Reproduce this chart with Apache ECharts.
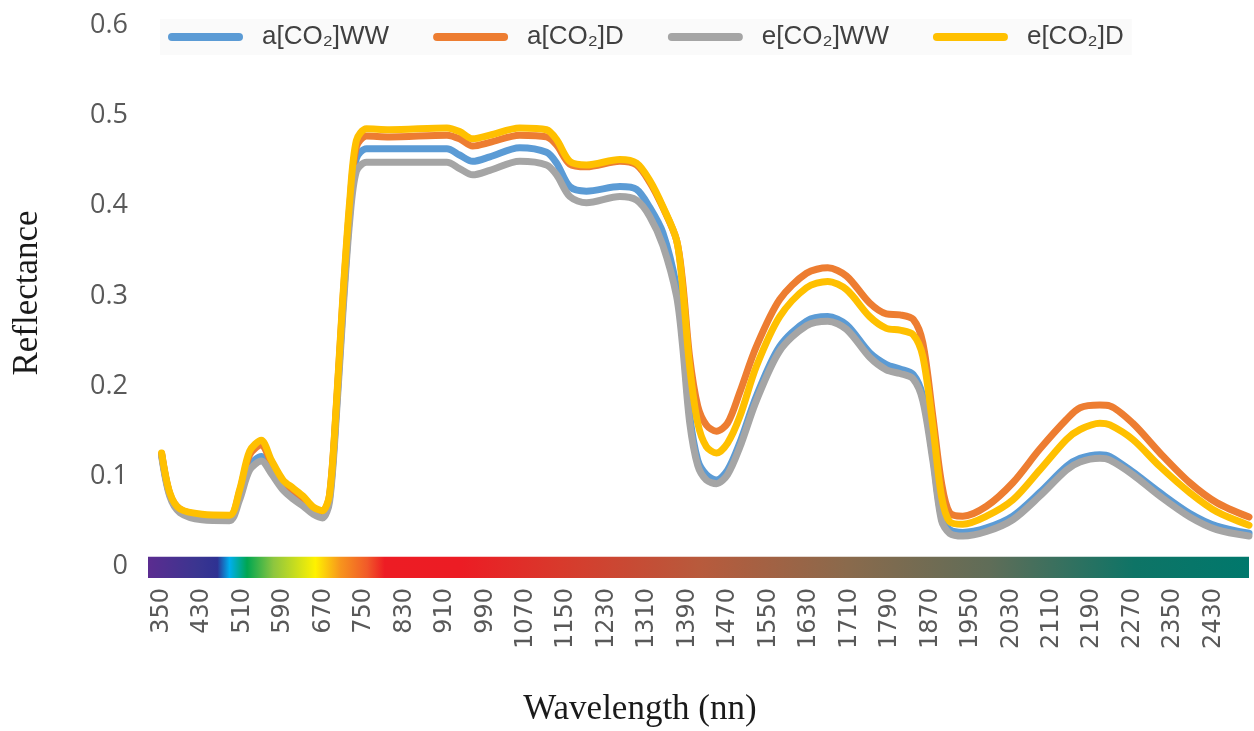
<!DOCTYPE html>
<html>
<head>
<meta charset="utf-8">
<script src="https://cdn.jsdelivr.net/npm/echarts@6/dist/echarts.min.js"></script>
<style>
html,body{margin:0;padding:0;background:#fff;}
#chart{width:1254px;height:731px;}
</style>
</head>
<body>
<div id="chart"></div>
<script>
// ---- data ----
const wavelengths = [350, 366, 386, 430, 484, 504, 524, 547, 567, 590, 610, 630, 650, 668, 682, 696, 708, 722, 735, 755, 800, 914, 939, 965, 999, 1058, 1111, 1131, 1157, 1190, 1256, 1289, 1315, 1341, 1368, 1380, 1394, 1410, 1427, 1447, 1469, 1493, 1526, 1572, 1625, 1667, 1704, 1750, 1783, 1810, 1836, 1855, 1875, 1892, 1908, 1934, 1981, 2033, 2086, 2139, 2166, 2205, 2225, 2270, 2324, 2383, 2436, 2500];

const aCO2WW = [0.124, 0.080, 0.062, 0.055, 0.054, 0.078, 0.112, 0.122, 0.107, 0.089, 0.080, 0.072, 0.062, 0.058, 0.076, 0.178, 0.285, 0.392, 0.452, 0.463, 0.463, 0.463, 0.456, 0.449, 0.454, 0.464, 0.459, 0.447, 0.421, 0.416, 0.421, 0.418, 0.398, 0.370, 0.310, 0.255, 0.168, 0.118, 0.102, 0.096, 0.107, 0.137, 0.189, 0.244, 0.272, 0.277, 0.268, 0.237, 0.224, 0.219, 0.213, 0.189, 0.122, 0.055, 0.041, 0.038, 0.043, 0.056, 0.082, 0.111, 0.120, 0.124, 0.122, 0.105, 0.082, 0.059, 0.045, 0.037];

const aCO2D = [0.125, 0.081, 0.064, 0.057, 0.056, 0.083, 0.124, 0.135, 0.115, 0.094, 0.085, 0.076, 0.065, 0.061, 0.079, 0.182, 0.292, 0.400, 0.465, 0.477, 0.476, 0.478, 0.474, 0.466, 0.470, 0.478, 0.476, 0.467, 0.446, 0.443, 0.449, 0.445, 0.426, 0.398, 0.362, 0.316, 0.232, 0.178, 0.157, 0.150, 0.159, 0.193, 0.244, 0.296, 0.325, 0.331, 0.322, 0.292, 0.280, 0.279, 0.274, 0.248, 0.166, 0.093, 0.060, 0.056, 0.067, 0.093, 0.130, 0.163, 0.176, 0.179, 0.178, 0.159, 0.126, 0.093, 0.071, 0.055];

const eCO2WW = [0.122, 0.078, 0.060, 0.052, 0.051, 0.074, 0.107, 0.117, 0.103, 0.085, 0.075, 0.067, 0.058, 0.054, 0.072, 0.172, 0.278, 0.384, 0.438, 0.448, 0.448, 0.448, 0.441, 0.434, 0.439, 0.449, 0.445, 0.434, 0.410, 0.403, 0.410, 0.406, 0.388, 0.356, 0.300, 0.245, 0.160, 0.112, 0.096, 0.092, 0.102, 0.132, 0.184, 0.239, 0.267, 0.272, 0.263, 0.232, 0.218, 0.214, 0.208, 0.184, 0.117, 0.051, 0.037, 0.034, 0.039, 0.052, 0.078, 0.107, 0.116, 0.120, 0.118, 0.102, 0.078, 0.055, 0.041, 0.034];

const eCO2D = [0.126, 0.082, 0.064, 0.058, 0.057, 0.085, 0.128, 0.140, 0.118, 0.096, 0.087, 0.078, 0.066, 0.062, 0.080, 0.185, 0.296, 0.406, 0.472, 0.485, 0.484, 0.486, 0.482, 0.474, 0.478, 0.486, 0.484, 0.473, 0.449, 0.445, 0.451, 0.447, 0.428, 0.399, 0.362, 0.310, 0.222, 0.159, 0.133, 0.126, 0.137, 0.166, 0.222, 0.277, 0.309, 0.316, 0.307, 0.277, 0.264, 0.262, 0.257, 0.233, 0.155, 0.078, 0.050, 0.047, 0.056, 0.074, 0.107, 0.141, 0.152, 0.159, 0.157, 0.141, 0.111, 0.082, 0.061, 0.046];

const seriesNames = ['a[CO₂]WW', 'a[CO₂]D', 'e[CO₂]WW', 'e[CO₂]D'];
const xTickLabels = [350, 430, 510, 590, 670, 750, 830, 910, 990, 1070, 1150, 1230, 1310, 1390, 1470, 1550, 1630, 1710, 1790, 1870, 1950, 2030, 2110, 2190, 2270, 2350, 2430];
const yTickLabels = [0, 0.1, 0.2, 0.3, 0.4, 0.5, 0.6];
const spectrumRange = [323, 2500];

// ---- chart ----
const allValues = [aCO2WW, aCO2D, eCO2WW, eCO2D];
const colors = ['#5b9bd5', '#ed7d31', '#a5a5a5', '#ffc000'];
const pairs = vals => wavelengths.map((w, i) => [w, vals[i]]);

const spectrum = {
  type: 'linear', x: 0, y: 0, x2: 1, y2: 0,
  colorStops: [
    {offset: 0.00, color: '#5b2c90'},
    {offset: 0.045, color: '#3a3590'},
    {offset: 0.063, color: '#2e3192'},
    {offset: 0.074, color: '#00aeef'},
    {offset: 0.090, color: '#00a651'},
    {offset: 0.114, color: '#8dc63f'},
    {offset: 0.152, color: '#fff200'},
    {offset: 0.175, color: '#f7941d'},
    {offset: 0.199, color: '#f15a29'},
    {offset: 0.215, color: '#ed1c24'},
    {offset: 0.284, color: '#ec1c24'},
    {offset: 0.375, color: '#d83a2c'},
    {offset: 0.500, color: '#b85a3c'},
    {offset: 0.635, color: '#8a6a4c'},
    {offset: 0.765, color: '#5f6d58'},
    {offset: 0.896, color: '#0e7466'},
    {offset: 1.00, color: '#00786c'}
  ]
};

const series = seriesNames.map((name, k) => ({
  name: name,
  type: 'line',
  data: pairs(allValues[k]),
  showSymbol: false,
  smooth: 0.3,
  lineStyle: {width: 7, color: colors[k], cap: 'round', join: 'round'},
  itemStyle: {color: colors[k]},
  z: 2 + k
}));
series[0].markArea = {
  silent: true,
  itemStyle: {color: spectrum},
  data: [[{xAxis: spectrumRange[0], yAxis: -0.0125}, {xAxis: spectrumRange[1], yAxis: 0.011}]]
};

const chart = echarts.init(document.getElementById('chart'), null, {renderer: 'canvas'});
chart.setOption({
  animation: false,
  backgroundColor: '#ffffff',
  grid: {left: 148, right: 5, top: 25, bottom: 153, containLabel: false},
  legend: {
    left: 160, top: 19,
    itemWidth: 75, itemHeight: 8, itemGap: 44,
    icon: 'path://M4,0 L71,0 A4,4 0 0 1 71,8 L4,8 A4,4 0 0 1 4,0 Z',
    backgroundColor: '#fafafa',
    padding: [5, 8, 5, 8],
    textStyle: {fontFamily: 'Liberation Sans', fontSize: 26, color: '#404040', padding: [0, 0, 0, 14]},
    data: seriesNames
  },
  xAxis: {
    type: 'value',
    min: spectrumRange[0], max: spectrumRange[1],
    axisLine: {show: false}, axisTick: {show: false}, splitLine: {show: false},
    axisLabel: {
      customValues: xTickLabels,
      formatter: v => String(v),
      rotate: 90, margin: 10,
      fontFamily: 'DejaVu Sans', fontSize: 24, color: '#595959'
    }
  },
  yAxis: {
    type: 'value',
    min: -0.0125, max: 0.6,
    axisLine: {show: false}, axisTick: {show: false}, splitLine: {show: false},
    axisLabel: {
      customValues: yTickLabels,
      formatter: v => String(v),
      margin: 20,
      fontFamily: 'Open Sans', fontSize: 27, color: '#595959'
    }
  },
  graphic: [
    {type: 'text', x: 640, y: 710,
     style: {text: 'Wavelength (nn)', font: '35px "Liberation Serif"', fill: '#1a1a1a', align: 'center', verticalAlign: 'middle'}},
    {type: 'text', x: 28, y: 293, rotation: Math.PI / 2,
     style: {text: 'Reflectance', font: '35px "Liberation Serif"', fill: '#1a1a1a', align: 'center', verticalAlign: 'middle'}}
  ],
  series: series
});
</script>
</body>
</html>
